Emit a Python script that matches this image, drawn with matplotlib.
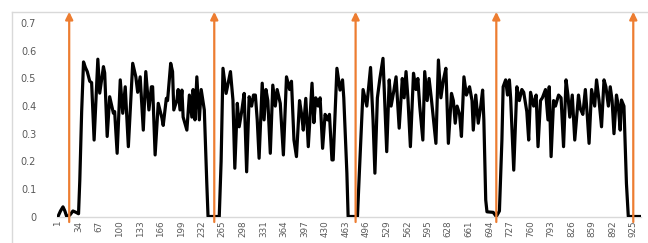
import matplotlib
matplotlib.use("Agg")
import matplotlib.pyplot as plt
from matplotlib.lines import Line2D

# ---- data ----
sample_index = [
    1, 5, 9, 12, 15, 20, 25, 30, 34, 36, 39, 42,
    45, 48, 52, 55, 59, 65, 68, 74, 76, 80, 84, 90, 92, 96, 101, 105, 109, 114,
    121, 126, 129, 133, 138, 142, 147, 151, 153, 157, 162, 168, 170, 175, 177,
    182, 185, 187, 192, 194, 197, 200, 202, 208, 212, 216, 218, 221, 224, 228,
    231, 233, 236, 240, 242,
    260, 263, 266, 271, 274, 278, 282, 285, 289, 292, 296, 300, 304, 308, 312,
    315, 318, 321, 324, 329, 332, 335, 338, 342, 346, 350, 353, 358, 363, 368,
    373, 376, 380, 384, 389, 392, 395, 399, 403, 409, 412, 415, 419, 422, 426,
    430, 434, 437, 441, 443, 449, 454, 458, 460, 465, 467,
    482, 485, 491, 497, 503, 507, 510, 514, 518, 523, 529, 533, 536, 540, 544,
    549, 554, 557, 560, 563, 567, 572, 576, 579, 582, 587, 590, 594, 597, 601,
    608, 612, 616, 620, 624, 628, 633, 636, 639, 642, 646, 649, 653, 657, 662,
    666, 668, 672, 676, 680, 683, 685, 688, 690, 700,
    705, 710, 714, 716, 720, 723, 726, 728, 733, 738, 742, 746, 749, 754, 757,
    760, 765, 769, 772, 776, 779, 784, 788, 790, 793, 797, 800, 805, 809, 813,
    817, 820, 823, 827, 831, 837, 840, 844, 848, 851, 854, 858, 863, 866, 870,
    874, 878, 881, 885, 888, 891, 894, 898, 901, 904, 906, 910, 914, 917, 935,
]
signal = [
    0.0, 0.02, 0.035, 0.02, 0.0, 0.005, 0.02, 0.015, 0.01, 0.13, 0.38, 0.56,
    0.54, 0.525, 0.49, 0.485, 0.277, 0.57, 0.447, 0.543, 0.52, 0.29, 0.434, 0.374, 0.38, 0.229, 0.495, 0.374, 0.47, 0.253,
    0.555, 0.506, 0.45, 0.506, 0.313, 0.525, 0.386, 0.47, 0.47, 0.223, 0.41, 0.356, 0.33, 0.428, 0.42,
    0.555, 0.525, 0.386, 0.422, 0.46, 0.386, 0.458, 0.36, 0.313, 0.44, 0.36, 0.46, 0.35, 0.506, 0.35,
    0.46, 0.43, 0.386, 0.12, 0.0,
    0.0, 0.2, 0.537, 0.446, 0.48, 0.525, 0.422, 0.175, 0.41, 0.325, 0.38, 0.446, 0.162, 0.434, 0.40,
    0.44, 0.44, 0.35, 0.211, 0.483, 0.35, 0.46, 0.42, 0.229, 0.476, 0.40, 0.46, 0.41, 0.223, 0.506,
    0.46, 0.49, 0.277, 0.217, 0.42, 0.374, 0.313, 0.428, 0.253, 0.483, 0.34, 0.43, 0.40, 0.43, 0.247,
    0.37, 0.35, 0.37, 0.205, 0.205, 0.537, 0.458, 0.495, 0.43, 0.157, 0.0,
    0.0, 0.157, 0.46, 0.40, 0.54, 0.35, 0.157, 0.43, 0.50, 0.573, 0.235, 0.495, 0.40, 0.45, 0.506,
    0.32, 0.50, 0.43, 0.525, 0.43, 0.253, 0.519, 0.46, 0.50, 0.40, 0.277, 0.525, 0.42, 0.50, 0.42,
    0.265, 0.567, 0.43, 0.495, 0.537, 0.265, 0.446, 0.42, 0.338, 0.40, 0.37, 0.29, 0.506, 0.44, 0.47,
    0.42, 0.313, 0.44, 0.338, 0.40, 0.458, 0.35, 0.06, 0.017, 0.015,
    0.0, 0.02, 0.277, 0.47, 0.495, 0.44, 0.495, 0.43, 0.168, 0.47, 0.42, 0.46, 0.45, 0.38, 0.277,
    0.45, 0.40, 0.44, 0.253, 0.42, 0.43, 0.46, 0.35, 0.47, 0.217, 0.42, 0.40, 0.44, 0.43, 0.253,
    0.495, 0.44, 0.36, 0.44, 0.277, 0.44, 0.39, 0.37, 0.46, 0.37, 0.265, 0.46, 0.40, 0.495, 0.42,
    0.325, 0.495, 0.47, 0.40, 0.47, 0.42, 0.30, 0.44, 0.40, 0.313, 0.422, 0.40, 0.12, 0.0, 0.0,
]
arrow_positions = [19, 252, 479, 705, 925]
x_tick_labels = [1, 34, 67, 100, 133, 166, 199, 232, 265, 298, 331, 364, 397,
                 430, 463, 496, 529, 562, 595, 628, 661, 694, 727, 760, 793,
                 826, 859, 892, 925]
y_ticks = [0, 0.1, 0.2, 0.3, 0.4, 0.5, 0.6, 0.7]
y_tick_labels = ["0", "0.1", "0.2", "0.3", "0.4", "0.5", "0.6", "0.7"]

W, H = 648, 243
fig = plt.figure(figsize=(W / 100, H / 100), dpi=100)
ax = fig.add_axes([57 / W, 26.5 / H, (641 - 57) / W, (216.5 - 11.7) / H])

ax.plot(sample_index, signal, color="black", lw=2.3, solid_joinstyle="round", zorder=3)

orange = "#ED7D31"
for xp in arrow_positions:
    ax.annotate("", xy=(xp, 0.742), xytext=(xp, -0.02),
                arrowprops=dict(arrowstyle="-|>,head_length=0.45,head_width=0.22",
                                color=orange, lw=1.6, shrinkA=0, shrinkB=0),
                annotation_clip=False, zorder=4)

ax.set_xlim(-0.6, 937.4)
ax.set_ylim(0, 0.742)
ax.set_xticks(x_tick_labels)
ax.set_xticklabels([str(v) for v in x_tick_labels], rotation=90,
                   fontsize=6.3, color="#595959")
ax.set_yticks(y_ticks)
ax.set_yticklabels(y_tick_labels, fontsize=7, color="#595959")
ax.tick_params(axis="both", length=0)
ax.tick_params(axis="y", pad=15)
ax.tick_params(axis="x", pad=3)

for s in ["left", "right", "top"]:
    ax.spines[s].set_visible(False)
ax.spines["bottom"].set_color("#d9d9d9")
ax.spines["bottom"].set_linewidth(1.0)

# chart frame (light gray, left and top edges)
fig.add_artist(Line2D([12 / W, 1.0], [1 - 11.7 / H, 1 - 11.7 / H],
                      transform=fig.transFigure, color="#d9d9d9", lw=1.0))
fig.add_artist(Line2D([12 / W, 12 / W], [0, 1 - 11.7 / H],
                      transform=fig.transFigure, color="#d9d9d9", lw=1.0))

fig.savefig("out.png", dpi=100)
